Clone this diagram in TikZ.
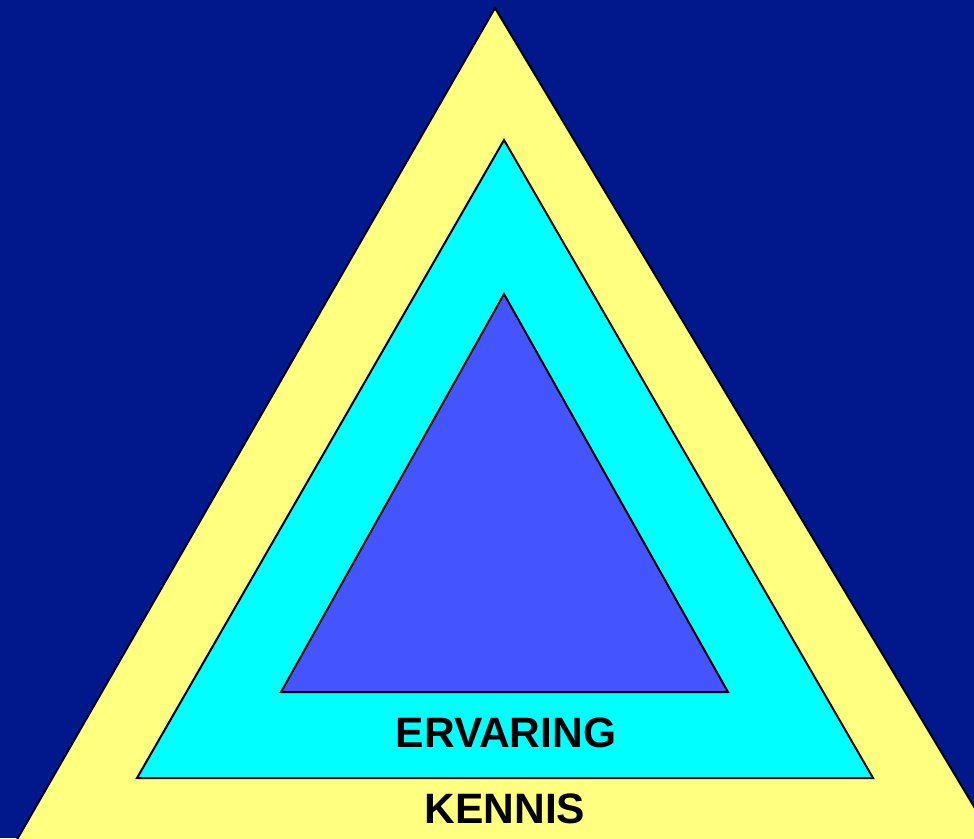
\documentclass[tikz,border=0pt]{standalone}
\usepackage{fontspec}
\setmainfont{Liberation Sans}
\definecolor{bgnavy}{HTML}{00188C}
\definecolor{yel}{HTML}{FFFF80}
\definecolor{cyn}{HTML}{00FFFF}
\definecolor{blu}{HTML}{4455FF}
\begin{document}
\begin{tikzpicture}[x=1pt,y=-1pt,
  tri/.style={draw=black,line width=2pt,line join=miter},
  lbl/.style={font=\fontsize{42.5}{50}\selectfont\bfseries,text=black,inner sep=0pt}]
\fill[bgnavy] (0,0) rectangle (974,838);
\useasboundingbox (0,0) rectangle (974,838);
\begin{scope}
\clip (0,0) rectangle (974,838);
\draw[tri,fill=yel] (495,8) -- (1000,850) -- (11,850) -- cycle;
\end{scope}
\draw[tri,fill=cyn] (504,140) -- (873,778) -- (137,778) -- cycle;
\draw[tri,fill=blu] (504,294) -- (728,692) -- (281,692) -- cycle;
\node[lbl] (erv) at (506,733) {ERVARING};
\node[lbl] (ken) at (505,809) {KENNIS};
\end{tikzpicture}
\end{document}
